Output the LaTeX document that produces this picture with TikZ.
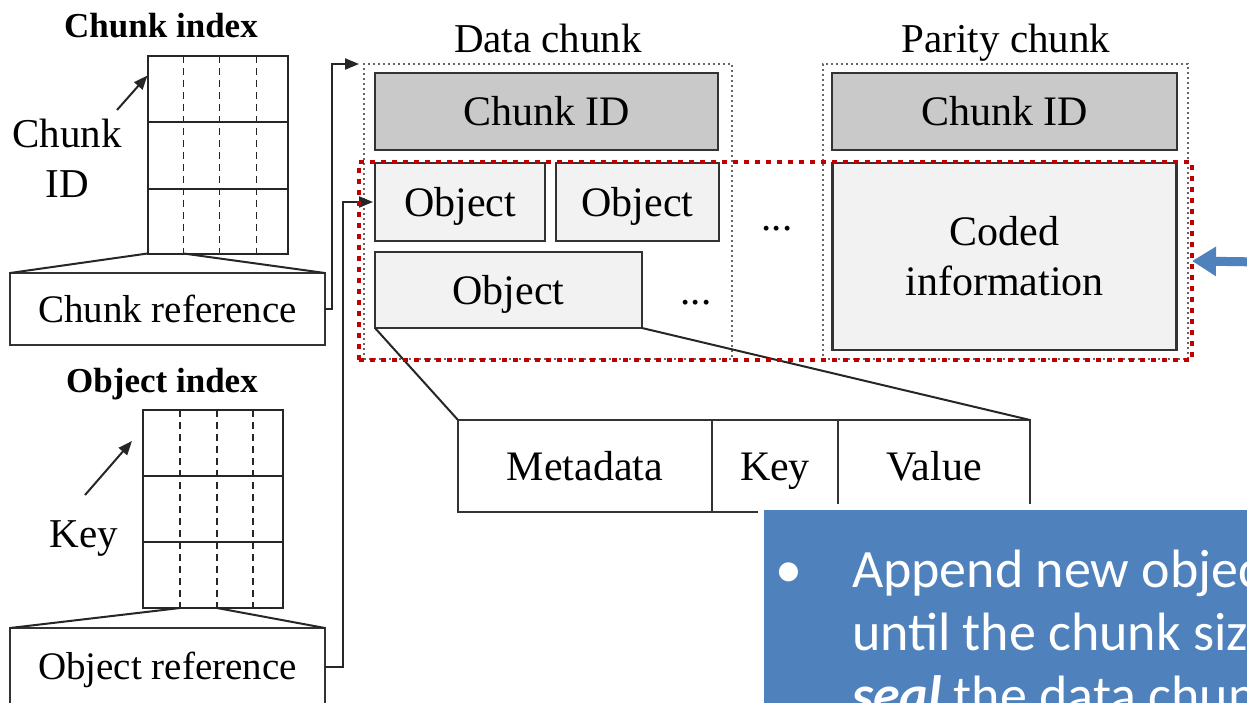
\documentclass[tikz,border=0pt]{standalone}
\usepackage{fontspec}
\setmainfont{Liberation Serif}
\newfontfamily\notefont{Carlito}
\usepackage{tikz}
\usetikzlibrary{positioning,arrows.meta}

\definecolor{boxline}{HTML}{333333}
\definecolor{idgray}{HTML}{C9C9C9}
\definecolor{objgray}{HTML}{F2F2F2}
\definecolor{sealred}{HTML}{C00000}
\definecolor{noteblue}{HTML}{4F81BD}

\begin{document}
\begin{tikzpicture} [
	x=1pt,y=-1pt,
	text centered,
	inner sep=0pt,
	outer sep=0pt,
	nbox/.style={
		rectangle,draw=boxline,line width=2.4pt,
		font=\fontsize{42}{50}\selectfont
	},
	nid/.style={nbox,fill=idgray,text height=28pt,text depth=0pt},
	nobj/.style={nbox,fill=objgray,text height=28pt,text depth=0pt},
	ncoded/.style={nbox,fill=objgray,align=center},
	nref/.style={
		nbox,fill=white,line width=2pt,
		font=\fontsize{39}{47}\selectfont,text height=26pt,text depth=0pt
	},
	nfield/.style={nbox,fill=white,line width=2pt,text height=28pt,text depth=0pt},
	ntable/.style={
		rectangle,draw=black!85,line width=2pt,
		minimum width=140pt,minimum height=198pt
	},
	nchunk/.style={
		rectangle,draw=black!60,line width=1.3pt,
		dash pattern=on 2pt off 3pt,
		minimum width=368pt,minimum height=295pt
	},
	nseal/.style={
		rectangle,draw=sealred,line width=4.5pt,
		dash pattern=on 5pt off 6pt
	},
	ntitle/.style={font=\fontsize{41}{50}\selectfont,anchor=base},
	nbold/.style={font=\fontsize{35}{42}\selectfont\bfseries,anchor=base},
	nlabel/.style={font=\fontsize{41}{50}\selectfont,align=center},
	nrow/.style={draw=black!85,line width=2pt},
	ncol/.style={draw=black!85,line width=1.8pt,dash pattern=on 7pt off 5pt},
	nline/.style={draw=black!85,line width=2pt},
	nlink/.style={draw=black!85,line width=2pt,-{Triangle[length=14pt,width=11pt]}},
	nnote/.style={rectangle,fill=noteblue,draw=white,line width=6pt},
	nnotetext/.style={
		font=\notefont\fontsize{54}{63}\selectfont,text=white,
		align=left,anchor=base west
	},
	nblue/.style={draw=noteblue,line width=9pt,-{Triangle[length=24pt,width=28pt]}}
]
\useasboundingbox (0,0) rectangle (1247,702);
\clip (0,0) rectangle (1247,702);

% chunk index
\node [nbold]	(cindextitle) at (161,37)	{Chunk index};
\node [ntable]	(cindex) at (217.5,154.5)	{};
\foreach \dy in {66,133}
	\draw [nrow] ([yshift=-\dy pt]cindex.north west) -- ([yshift=-\dy pt]cindex.north east);
\foreach \dx in {36,72,109}
	\draw [ncol] ([xshift=\dx pt]cindex.north west) -- ([xshift=\dx pt]cindex.south west);
\node [nlabel]	(cidlabel) at (67,158)	{Chunk\\ID};
\coordinate	(cidtail) at (117,110);
\draw [nlink] (cidtail) -- ([yshift=-20pt]cindex.north west);
\node [nref,minimum width=315pt,minimum height=72pt]	(cref) at (167.5,309)	{Chunk reference};
\draw [nline] (cindex.south west) -- (cref.north west);
\draw [nline] ([xshift=36pt]cindex.south west) -- (cref.north east);

% object index
\node [nbold]	(oindextitle) at (162,392)	{Object index};
\node [ntable]	(oindex) at (213,509)	{};
\foreach \dy in {66,132}
	\draw [nrow] ([yshift=-\dy pt]oindex.north west) -- ([yshift=-\dy pt]oindex.north east);
\foreach \dx in {37,74,110}
	\draw [ncol] ([xshift=\dx pt]oindex.north west) -- ([xshift=\dx pt]oindex.south west);
\node [nlabel]	(keylabel) at (84,547)	[anchor=base]	{Key};
\coordinate	(keytail) at (85,495);
\coordinate	(keyhead) at (132,441);
\draw [nlink] (keytail) -- (keyhead);
\node [nref,minimum width=315pt,minimum height=77pt]	(oref) at (167.5,666.5)	{Object reference};
\draw [nline] ([xshift=37pt]oindex.south west) -- (oref.north west);
\draw [nline] ([xshift=74pt]oindex.south west) -- (oref.north east);

% data chunk
\node [ntitle]	(dtitle) at (548,52)	{Data chunk};
\node [nchunk]	(dchunk) at (548,211.5)	{};
\node [nid,minimum width=343pt,minimum height=77pt]	(dcid) at (546.5,111.5)	{Chunk ID};
\node [nobj,minimum width=170pt,minimum height=78pt]	(obj1) at (460,202)	{Object};
\node [nobj,minimum width=163pt,minimum height=78pt]	(obj2) [right=11pt of obj1]	{Object};
\node [nobj,minimum width=267pt,minimum height=76pt]	(obj3) at (508.5,290)	{Object};
\node [ntitle]	(dmore) at (777,230)	{...};
\node [ntitle]	(omore) at (696,304)	{...};

% parity chunk
\node [ntitle]	(ptitle) at (1006,52)	{Parity chunk};
\node [nchunk,minimum width=365pt]	(pchunk) at (1005.5,211.5)	{};
\node [nid,minimum width=345pt,minimum height=77pt]	(pcid) at (1004.5,111.5)	{Chunk ID};
\node [ncoded,minimum width=344pt,minimum height=187pt]	(coded) [below=13pt of pcid]	{Coded\\information};

% object layout
\node [nfield,minimum width=254pt,minimum height=92pt]	(meta) at (585,466)	{Metadata};
\node [nfield,minimum width=126pt,minimum height=92pt]	(key) [right=0pt of meta]	{Key};
\node [nfield,minimum width=192pt,minimum height=92pt]	(value) [right=0pt of key]	{Value};
\draw [nline] (obj3.south west) -- (meta.north west);
\draw [nline] (obj3.south east) -- (value.north east);

% references
\draw [nlink,shorten >=5pt] (cref.east) -- ++(7,0) |- (dchunk.north west);
\draw [nlink,shorten >=2pt] (oref.east) -- ++(18,0) |- (obj1.west);

% sealed part
\node [nseal,minimum width=833pt,minimum height=198pt]	(sealed) at (775.5,261)	{};
\coordinate	(bluetail) at (1262,262);
\draw [nblue] (bluetail) -- (sealed.east);

% note
\node [nnote,anchor=north west,minimum width=520pt,minimum height=230pt]	(note) at (761,507)	{};
\node [nnotetext]	(bullet) at (775,587)	{•};
\node [nnotetext]	(notetext) at (852,713)	{Append new objects\\until the chunk size is\\\textbf{\textit{seal}} the data chunk};
\end{tikzpicture}
\end{document}
